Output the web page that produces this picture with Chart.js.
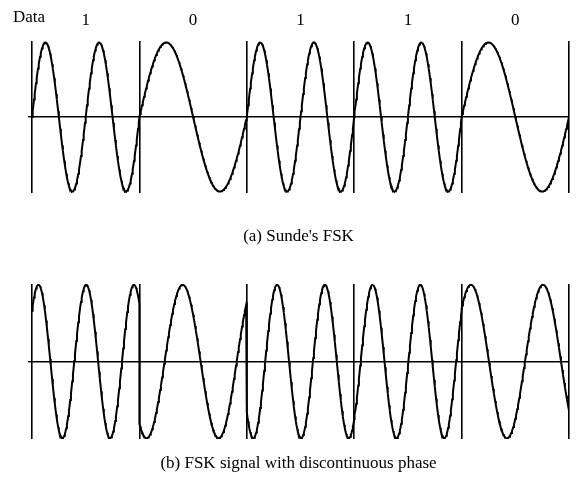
<!DOCTYPE html>
<html>
<head>
<meta charset="utf-8">
<script src="https://cdn.jsdelivr.net/npm/chart.js@4.4.0/dist/chart.umd.min.js"></script>
<style>
  html, body { margin: 0; padding: 0; background: #fff; }
  #wrap { position: relative; width: 579px; height: 477px; }
  #chartA { position: absolute; left: 0; top: 0; }
  #chartB { position: absolute; left: 0; top: 255px; }
  #dataLabel { position: absolute; left: 13px; top: 8px; font: 17px/17px "Liberation Serif", serif; color: #000; }
</style>
</head>
<body>
<div id="wrap">
  <canvas id="chartA" width="579" height="255"></canvas>
  <canvas id="chartB" width="579" height="222"></canvas>
  <div id="dataLabel">Data</div>
</div>
<script>
// data bits, one per bit slot (same sequence in both panels)
var bits = ['1', '0', '1', '1', '0'];
var bitEdges = [0, 1, 2, 3, 4, 5];

// (a) Sunde's FSK: whole number of cycles per bit, phase continuous
var cyclesSunde = [2, 1, 2, 2, 1];

// (b) two free running oscillators switched at bit edges
var cyclesDisc = [2.25, 1.49, 2.25, 2.25, 1.49];
var discPeakAt = 0.06;   // first crest of the oscillators, in bit units

var captionA = "(a) Sunde's FSK";
var captionB = "(b) FSK signal with discontinuous phase";

var serif = "'Liberation Serif', 'Times New Roman', serif";
var samplesPerBit = 160;

function sundeWave() {
    var pts = [];
    for (var i = 0; i < bits.length; i++) {
        for (var k = 0; k <= samplesPerBit; k++) {
            var t = k / samplesPerBit;
            pts.push({ x: i + t, y: Math.sin(2 * Math.PI * cyclesSunde[i] * t) });
        }
    }
    return pts;
}

function discWave() {
    var pts = [];
    for (var i = 0; i < bits.length; i++) {
        for (var k = 0; k <= samplesPerBit; k++) {
            var t = i + k / samplesPerBit;
            pts.push({ x: t, y: Math.cos(2 * Math.PI * cyclesDisc[i] * (t - discPeakAt)) });
        }
    }
    return pts;
}

function makeOptions(caption, padTop, titleTop, titleBottom, yLim) {
    return {
        responsive: false,
        animation: false,
        events: [],
        layout: { padding: { left: 28, right: 10, top: padTop, bottom: 0 } },
        plugins: {
            legend: { display: false },
            tooltip: { enabled: false },
            title: {
                display: true,
                text: caption,
                position: 'bottom',
                color: '#000',
                font: { family: serif, size: 17, weight: 'normal', lineHeight: 1 },
                padding: { top: titleTop, bottom: titleBottom }
            }
        },
        scales: {
            x: {
                type: 'linear',
                min: 0,
                max: 5,
                afterBuildTicks: function (s) { s.ticks = bitEdges.map(function (v) { return { value: v }; }); },
                ticks: { display: false },
                border: { display: false },
                grid: { color: '#000', lineWidth: 1.6, drawTicks: false }
            },
            y: {
                type: 'linear',
                min: -yLim,
                max: yLim,
                afterBuildTicks: function (s) { s.ticks = [{ value: 0 }]; },
                ticks: { display: false },
                border: { display: false },
                grid: { color: '#000', lineWidth: 1.4, drawTicks: true, tickLength: 4 }
            }
        }
    };
}

function waveDataset(points) {
    return {
        data: points,
        borderColor: '#000',
        borderWidth: 2,
        pointRadius: 0,
        tension: 0,
        fill: false
    };
}

// (a)
var optsA = makeOptions(captionA, 0, 35, 10, 1.02);
optsA.scales.x2 = {
    type: 'linear',
    position: 'top',
    min: 0,
    max: 5,
    afterBuildTicks: function (s) { s.ticks = bits.map(function (b, i) { return { value: i + 0.5 }; }); },
    afterFit: function (s) { s.height = 41; },
    ticks: {
        autoSkip: false,
        maxRotation: 0,
        color: '#000',
        padding: 10,
        font: { family: serif, size: 17 },
        callback: function (v, i) { return bits[i]; }
    },
    border: { display: false },
    grid: { display: false, drawTicks: false }
};

new Chart(document.getElementById('chartA').getContext('2d'), {
    type: 'line',
    data: { datasets: [waveDataset(sundeWave())] },
    options: optsA
});

// (b)
new Chart(document.getElementById('chartB').getContext('2d'), {
    type: 'line',
    data: { datasets: [waveDataset(discWave())] },
    options: makeOptions(captionB, 29, 16, 5, 1.01)
});
</script>
</body>
</html>
